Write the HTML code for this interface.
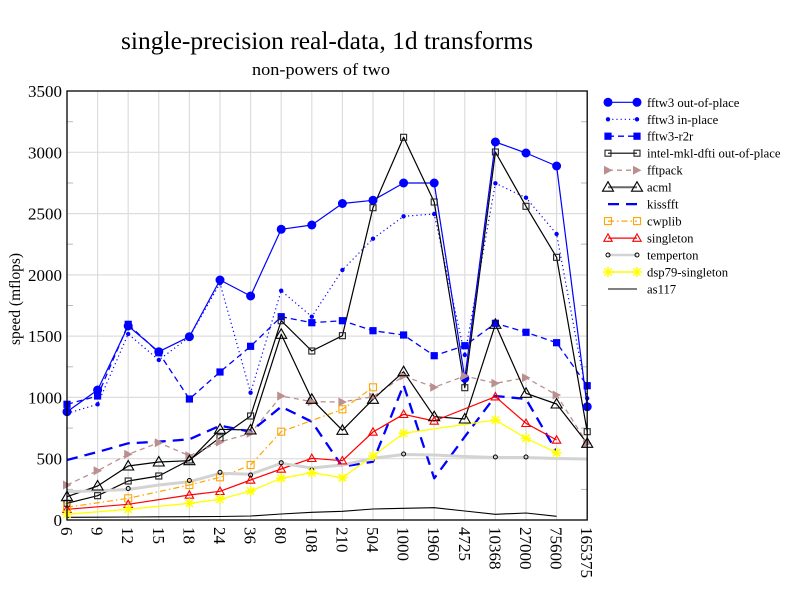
<!DOCTYPE html>
<html><head><meta charset="utf-8"><style>
html,body{margin:0;padding:0;background:#fff;}
svg{display:block;font-family:"Liberation Serif",serif;}
</style></head><body>
<svg width="792" height="612" viewBox="0 0 792 612" xmlns="http://www.w3.org/2000/svg">
<defs>
<circle id="mo" r="4.5" fill="#0000ff"/>
<circle id="mi" r="2.2" fill="#0000ff"/>
<rect id="mr" x="-3.6" y="-3.6" width="7.2" height="7.2" fill="#0000ff"/>
<rect id="mk" x="-3" y="-3" width="6" height="6" fill="none" stroke="#222" stroke-width="1.1"/>
<path id="mp" d="M-4,-4.5 L4.5,0 L-4,4.5 Z" fill="#bc8f8f"/>
<path id="ma" d="M0,-5.5 L5.5,4 L-5.5,4 Z" fill="none" stroke="#000" stroke-width="1.1"/>
<rect id="mc" x="-3.5" y="-3.5" width="7" height="7" fill="none" stroke="#ffa500" stroke-width="1.1"/>
<path id="ms" d="M0,-4.2 L4.2,3.2 L-4.2,3.2 Z" fill="none" stroke="#ff0000" stroke-width="1.1"/>
<circle id="mt" r="2" fill="none" stroke="#000" stroke-width="1"/>
<path id="md" d="M-5,0 L5,0 M0,-5 L0,5 M-3.6,-3.6 L3.6,3.6 M-3.6,3.6 L3.6,-3.6" stroke="#ffff00" stroke-width="1.5"/>
</defs>
<rect width="792" height="612" fill="#fff"/>

<!-- title -->
<text x="327" y="49" font-size="25.5" text-anchor="middle" textLength="412" lengthAdjust="spacingAndGlyphs">single-precision real-data, 1d transforms</text>
<text x="321" y="75" font-size="17" text-anchor="middle" textLength="138" lengthAdjust="spacingAndGlyphs">non-powers of two</text>
<text transform="translate(20,299) rotate(-90)" font-size="15.5" text-anchor="middle" textLength="92" lengthAdjust="spacingAndGlyphs">speed (mflops)</text>

<!-- grid -->
<g stroke="#dddddd" stroke-width="1.2">
<line x1="97.6" y1="91" x2="97.6" y2="520"/><line x1="128.2" y1="91" x2="128.2" y2="520"/><line x1="158.8" y1="91" x2="158.8" y2="520"/><line x1="189.4" y1="91" x2="189.4" y2="520"/><line x1="220" y1="91" x2="220" y2="520"/><line x1="250.6" y1="91" x2="250.6" y2="520"/><line x1="281.2" y1="91" x2="281.2" y2="520"/><line x1="311.8" y1="91" x2="311.8" y2="520"/><line x1="342.4" y1="91" x2="342.4" y2="520"/><line x1="373" y1="91" x2="373" y2="520"/><line x1="403.6" y1="91" x2="403.6" y2="520"/><line x1="434.2" y1="91" x2="434.2" y2="520"/><line x1="464.8" y1="91" x2="464.8" y2="520"/><line x1="495.4" y1="91" x2="495.4" y2="520"/><line x1="526" y1="91" x2="526" y2="520"/><line x1="556.6" y1="91" x2="556.6" y2="520"/>
<line x1="67" y1="458.7" x2="587.2" y2="458.7"/><line x1="67" y1="397.4" x2="587.2" y2="397.4"/><line x1="67" y1="336.1" x2="587.2" y2="336.1"/><line x1="67" y1="274.9" x2="587.2" y2="274.9"/><line x1="67" y1="213.6" x2="587.2" y2="213.6"/><line x1="67" y1="152.3" x2="587.2" y2="152.3"/>
</g>
<g stroke="#bbbbbb" stroke-width="1">
<line x1="67" y1="489.4" x2="73" y2="489.4"/><line x1="67" y1="428.1" x2="73" y2="428.1"/><line x1="67" y1="366.8" x2="73" y2="366.8"/><line x1="67" y1="305.5" x2="73" y2="305.5"/><line x1="67" y1="244.2" x2="73" y2="244.2"/><line x1="67" y1="183" x2="73" y2="183"/><line x1="67" y1="121.7" x2="73" y2="121.7"/>
<line x1="581" y1="489.4" x2="587.2" y2="489.4"/><line x1="581" y1="428.1" x2="587.2" y2="428.1"/><line x1="581" y1="366.8" x2="587.2" y2="366.8"/><line x1="581" y1="305.5" x2="587.2" y2="305.5"/><line x1="581" y1="244.2" x2="587.2" y2="244.2"/><line x1="581" y1="183" x2="587.2" y2="183"/><line x1="581" y1="121.7" x2="587.2" y2="121.7"/>
</g>

<!-- y labels -->
<g font-size="17" text-anchor="end">
<text x="62" y="526">0</text><text x="62" y="464.7">500</text><text x="62" y="403.4">1000</text><text x="62" y="342.1">1500</text><text x="62" y="280.9">2000</text><text x="62" y="219.6">2500</text><text x="62" y="158.3">3000</text><text x="62" y="97">3500</text>
</g>
<!-- x labels -->
<g font-size="17">
<text transform="translate(67,527) rotate(90)" y="6">6</text>
<text transform="translate(97.6,527) rotate(90)" y="6">9</text>
<text transform="translate(128.2,527) rotate(90)" y="6">12</text>
<text transform="translate(158.8,527) rotate(90)" y="6">15</text>
<text transform="translate(189.4,527) rotate(90)" y="6">18</text>
<text transform="translate(220,527) rotate(90)" y="6">24</text>
<text transform="translate(250.6,527) rotate(90)" y="6">36</text>
<text transform="translate(281.2,527) rotate(90)" y="6">80</text>
<text transform="translate(311.8,527) rotate(90)" y="6">108</text>
<text transform="translate(342.4,527) rotate(90)" y="6">210</text>
<text transform="translate(373,527) rotate(90)" y="6">504</text>
<text transform="translate(403.6,527) rotate(90)" y="6">1000</text>
<text transform="translate(434.2,527) rotate(90)" y="6">1960</text>
<text transform="translate(464.8,527) rotate(90)" y="6">4725</text>
<text transform="translate(495.4,527) rotate(90)" y="6">10368</text>
<text transform="translate(526,527) rotate(90)" y="6">27000</text>
<text transform="translate(556.6,527) rotate(90)" y="6">75600</text>
<text transform="translate(587.2,527) rotate(90)" y="6">165375</text>
</g>

<!-- series -->
<g fill="none" stroke-linejoin="round">
<!-- fftw3 out-of-place -->
<polyline stroke="#0000ff" stroke-width="1.2" points="67,411.7 97.6,390 128.2,326 158.8,351.7 189.4,336.7 220,280 250.6,296 281.2,229.3 311.8,225 342.4,203.5 373,200.3 403.6,183 434.2,183 464.8,378.3 495.4,142 526,153 556.6,166 587.2,406.7"/>
<!-- in-place -->
<polyline stroke="#0000ff" stroke-width="1.2" stroke-dasharray="1.2,3" points="67,413.4 97.6,404.3 128.2,334 158.8,360 189.4,337 220,283.3 250.6,392.7 281.2,290.7 311.8,316.7 342.4,270 373,238.7 403.6,216.3 434.2,214 464.8,355 495.4,183.3 526,197.7 556.6,234 587.2,398.3"/>
<!-- r2r -->
<polyline stroke="#0000ff" stroke-width="1.3" stroke-dasharray="6,4" points="67,404.3 97.6,396 128.2,324.3 158.8,352.7 189.4,399 220,372 250.6,346.3 281.2,316.7 311.8,322.7 342.4,320.7 373,330.7 403.6,335 434.2,355.7 464.8,345.7 495.4,323.3 526,332.3 556.6,342.7 587.2,385.7"/>
<!-- intel -->
<polyline stroke="#000" stroke-width="1.2" points="67,503.3 97.6,495.7 128.2,481 158.8,476 189.4,460 220,437.7 250.6,416 281.2,320.7 311.8,351 342.4,335.7 373,207.7 403.6,137.3 434.2,202 464.8,387.7 495.4,152 526,206.3 556.6,257.3 587.2,431.7"/>
<!-- fftpack -->
<polyline stroke="#bc8f8f" stroke-width="1.3" stroke-dasharray="5,4" points="67,485 97.6,470.7 128.2,454.3 158.8,442.7 189.4,455.7 220,442 250.6,433.3 281.2,396 311.8,401.7 342.4,402 373,396.7 403.6,376 434.2,387.3 464.8,376 495.4,383.3 526,377.7 556.6,395 587.2,443.3"/>
<!-- acml -->
<polyline stroke="#000" stroke-width="1.2" points="67,496.7 97.6,486 128.2,466 158.8,462 189.4,460.7 220,429.3 250.6,430 281.2,334.3 311.8,399.3 342.4,430.3 373,399.3 403.6,371.7 434.2,416.7 464.8,419 495.4,324.3 526,393.3 556.6,404 587.2,443.3"/>
<!-- kissfft -->
<polyline stroke="#0000ff" stroke-width="2.3" stroke-dasharray="11,7" points="67,460 97.6,452 128.2,443.3 158.8,441.7 189.4,439.3 220,425.7 250.6,431.7 281.2,406.7 311.8,421.7 342.4,466.7 373,461.7 403.6,385 434.2,478.3 464.8,436.7 495.4,396 526,399 556.6,451.7"/>
<!-- cwplib -->
<polyline stroke="#ffa500" stroke-width="1.2" stroke-dasharray="6,3,1.5,3" points="67,507.3 128.2,498.3 189.4,485 220,477.3 250.6,465 281.2,431.7 342.4,409.3 373,387.3"/>
<!-- singleton -->
<polyline stroke="#ff0000" stroke-width="1.2" points="67,509.3 128.2,504.3 189.4,495 220,491.3 250.6,480 281.2,469 311.8,458.3 342.4,460.7 373,432 403.6,414.3 434.2,421 495.4,396.7 526,423.3 556.6,440"/>
<!-- temperton -->
<polyline stroke="#d3d3d3" stroke-width="3" points="67,491.7 97.6,490.7 128.2,489.5 158.8,485 189.4,481.7 220,473.3 250.6,474.3 281.2,463.3 311.8,468 342.4,465 373,458.3 403.6,454.5 434.2,455 464.8,456.5 495.4,457.5 526,457.5 556.6,458.5 587.2,459"/>
<!-- dsp79 -->
<polyline stroke="#ffff00" stroke-width="1.3" points="67,514.3 128.2,509.3 189.4,503.3 220,499.3 250.6,491 281.2,478.3 311.8,472.7 342.4,477.7 373,456 403.6,433.3 495.4,420 526,438.3 556.6,452.7"/>
<!-- as117 -->
<polyline stroke="#000" stroke-width="1.1" points="67,517.3 97.6,517.2 128.2,517 158.8,516.8 189.4,516.7 220,516.5 250.6,516 281.2,514 311.8,512.3 342.4,511.3 373,509 403.6,508.3 434.2,507.7 464.8,511 495.4,514.3 526,513 556.6,516.3"/>
</g>

<!-- markers -->
<g>
<use href="#mo" x="67" y="411.7"/><use href="#mo" x="97.6" y="390"/><use href="#mo" x="128.2" y="326"/><use href="#mo" x="158.8" y="351.7"/><use href="#mo" x="189.4" y="336.7"/><use href="#mo" x="220" y="280"/><use href="#mo" x="250.6" y="296"/><use href="#mo" x="281.2" y="229.3"/><use href="#mo" x="311.8" y="225"/><use href="#mo" x="342.4" y="203.5"/><use href="#mo" x="373" y="200.3"/><use href="#mo" x="403.6" y="183"/><use href="#mo" x="434.2" y="183"/><use href="#mo" x="464.8" y="378.3"/><use href="#mo" x="495.4" y="142"/><use href="#mo" x="526" y="153"/><use href="#mo" x="556.6" y="166"/><use href="#mo" x="587.2" y="406.7"/>

<use href="#mi" x="67" y="413.4"/><use href="#mi" x="97.6" y="404.3"/><use href="#mi" x="128.2" y="334"/><use href="#mi" x="158.8" y="360"/><use href="#mi" x="189.4" y="337"/><use href="#mi" x="220" y="283.3"/><use href="#mi" x="250.6" y="392.7"/><use href="#mi" x="281.2" y="290.7"/><use href="#mi" x="311.8" y="316.7"/><use href="#mi" x="342.4" y="270"/><use href="#mi" x="373" y="238.7"/><use href="#mi" x="403.6" y="216.3"/><use href="#mi" x="434.2" y="214"/><use href="#mi" x="464.8" y="355"/><use href="#mi" x="495.4" y="183.3"/><use href="#mi" x="526" y="197.7"/><use href="#mi" x="556.6" y="234"/><use href="#mi" x="587.2" y="398.3"/>

<use href="#mr" x="67" y="404.3"/><use href="#mr" x="97.6" y="396"/><use href="#mr" x="128.2" y="324.3"/><use href="#mr" x="158.8" y="352.7"/><use href="#mr" x="189.4" y="399"/><use href="#mr" x="220" y="372"/><use href="#mr" x="250.6" y="346.3"/><use href="#mr" x="281.2" y="316.7"/><use href="#mr" x="311.8" y="322.7"/><use href="#mr" x="342.4" y="320.7"/><use href="#mr" x="373" y="330.7"/><use href="#mr" x="403.6" y="335"/><use href="#mr" x="434.2" y="355.7"/><use href="#mr" x="464.8" y="345.7"/><use href="#mr" x="495.4" y="323.3"/><use href="#mr" x="526" y="332.3"/><use href="#mr" x="556.6" y="342.7"/><use href="#mr" x="587.2" y="385.7"/>

<use href="#mk" x="67" y="503.3"/><use href="#mk" x="97.6" y="495.7"/><use href="#mk" x="128.2" y="481"/><use href="#mk" x="158.8" y="476"/><use href="#mk" x="189.4" y="460"/><use href="#mk" x="220" y="437.7"/><use href="#mk" x="250.6" y="416"/><use href="#mk" x="281.2" y="320.7"/><use href="#mk" x="311.8" y="351"/><use href="#mk" x="342.4" y="335.7"/><use href="#mk" x="373" y="207.7"/><use href="#mk" x="403.6" y="137.3"/><use href="#mk" x="434.2" y="202"/><use href="#mk" x="464.8" y="387.7"/><use href="#mk" x="495.4" y="152"/><use href="#mk" x="526" y="206.3"/><use href="#mk" x="556.6" y="257.3"/><use href="#mk" x="587.2" y="431.7"/>

<use href="#mp" x="67" y="485"/><use href="#mp" x="97.6" y="470.7"/><use href="#mp" x="128.2" y="454.3"/><use href="#mp" x="158.8" y="442.7"/><use href="#mp" x="189.4" y="455.7"/><use href="#mp" x="220" y="442"/><use href="#mp" x="250.6" y="433.3"/><use href="#mp" x="281.2" y="396"/><use href="#mp" x="311.8" y="401.7"/><use href="#mp" x="342.4" y="402"/><use href="#mp" x="373" y="396.7"/><use href="#mp" x="403.6" y="376"/><use href="#mp" x="434.2" y="387.3"/><use href="#mp" x="464.8" y="376"/><use href="#mp" x="495.4" y="383.3"/><use href="#mp" x="526" y="377.7"/><use href="#mp" x="556.6" y="395"/><use href="#mp" x="587.2" y="443.3"/>

<use href="#ma" x="67" y="496.7"/><use href="#ma" x="97.6" y="486"/><use href="#ma" x="128.2" y="466"/><use href="#ma" x="158.8" y="462"/><use href="#ma" x="189.4" y="460.7"/><use href="#ma" x="220" y="429.3"/><use href="#ma" x="250.6" y="430"/><use href="#ma" x="281.2" y="334.3"/><use href="#ma" x="311.8" y="399.3"/><use href="#ma" x="342.4" y="430.3"/><use href="#ma" x="373" y="399.3"/><use href="#ma" x="403.6" y="371.7"/><use href="#ma" x="434.2" y="416.7"/><use href="#ma" x="464.8" y="419"/><use href="#ma" x="495.4" y="324.3"/><use href="#ma" x="526" y="393.3"/><use href="#ma" x="556.6" y="404"/><use href="#ma" x="587.2" y="443.3"/>

<use href="#mc" x="67" y="507.3"/><use href="#mc" x="128.2" y="498.3"/><use href="#mc" x="189.4" y="485"/><use href="#mc" x="220" y="477.3"/><use href="#mc" x="250.6" y="465"/><use href="#mc" x="281.2" y="431.7"/><use href="#mc" x="342.4" y="409.3"/><use href="#mc" x="373" y="387.3"/>

<use href="#ms" x="67" y="509.3"/><use href="#ms" x="128.2" y="504.3"/><use href="#ms" x="189.4" y="495"/><use href="#ms" x="220" y="491.3"/><use href="#ms" x="250.6" y="480"/><use href="#ms" x="281.2" y="469"/><use href="#ms" x="311.8" y="458.3"/><use href="#ms" x="342.4" y="460.7"/><use href="#ms" x="373" y="432"/><use href="#ms" x="403.6" y="414.3"/><use href="#ms" x="434.2" y="421"/><use href="#ms" x="495.4" y="396.7"/><use href="#ms" x="526" y="423.3"/><use href="#ms" x="556.6" y="440"/>

<use href="#mt" x="128.2" y="488.5"/><use href="#mt" x="189.4" y="480.5"/><use href="#mt" x="220" y="472.3"/><use href="#mt" x="250.6" y="475"/><use href="#mt" x="281.2" y="462.7"/><use href="#mt" x="311.8" y="470"/><use href="#mt" x="403.6" y="454"/><use href="#mt" x="495.4" y="457"/><use href="#mt" x="526" y="457"/>

<use href="#md" x="67" y="514.3"/><use href="#md" x="128.2" y="509.3"/><use href="#md" x="189.4" y="503.3"/><use href="#md" x="220" y="499.3"/><use href="#md" x="250.6" y="491"/><use href="#md" x="281.2" y="478.3"/><use href="#md" x="311.8" y="472.7"/><use href="#md" x="342.4" y="477.7"/><use href="#md" x="373" y="456"/><use href="#md" x="403.6" y="433.3"/><use href="#md" x="495.4" y="420"/><use href="#md" x="526" y="438.3"/><use href="#md" x="556.6" y="452.7"/>
</g>

<!-- frame -->
<rect x="67" y="91" width="520.2" height="429" fill="none" stroke="#000" stroke-width="1.3"/>

<!-- legend -->
<g fill="none">
<line x1="608" y1="102.3" x2="637" y2="102.3" stroke="#0000ff" stroke-width="1.2"/>
<line x1="608" y1="119.3" x2="637" y2="119.3" stroke="#0000ff" stroke-width="1.2" stroke-dasharray="1.2,3"/>
<line x1="608" y1="136.2" x2="637" y2="136.2" stroke="#0000ff" stroke-width="1.3" stroke-dasharray="6,4"/>
<line x1="608" y1="153.2" x2="637" y2="153.2" stroke="#000" stroke-width="1.2"/>
<line x1="608" y1="170.2" x2="637" y2="170.2" stroke="#bc8f8f" stroke-width="1.3" stroke-dasharray="5,4"/>
<line x1="608" y1="187.2" x2="637" y2="187.2" stroke="#666" stroke-width="2"/>
<line x1="608" y1="204.1" x2="637" y2="204.1" stroke="#0000ff" stroke-width="2.3" stroke-dasharray="11,7"/>
<line x1="608" y1="221.1" x2="637" y2="221.1" stroke="#ffa500" stroke-width="1.2" stroke-dasharray="6,3,1.5,3"/>
<line x1="608" y1="238.1" x2="637" y2="238.1" stroke="#ff0000" stroke-width="1.2"/>
<line x1="608" y1="255" x2="637" y2="255" stroke="#d3d3d3" stroke-width="2.5"/>
<line x1="608" y1="272" x2="637" y2="272" stroke="#ffff00" stroke-width="1.5"/>
<line x1="608" y1="289" x2="637" y2="289" stroke="#000" stroke-width="1.1"/>
</g>
<g>
<use href="#mo" x="608" y="102.3"/><use href="#mo" x="637" y="102.3"/>
<use href="#mi" x="608" y="119.3"/><use href="#mi" x="637" y="119.3"/>
<use href="#mr" x="608" y="136.2"/><use href="#mr" x="637" y="136.2"/>
<use href="#mk" x="608" y="153.2"/><use href="#mk" x="637" y="153.2"/>
<use href="#mp" x="608" y="170.2"/><use href="#mp" x="637" y="170.2"/>
<use href="#ma" x="608" y="187.2"/><use href="#ma" x="637" y="187.2"/>
<use href="#mc" x="608" y="221.1"/><use href="#mc" x="637" y="221.1"/>
<use href="#ms" x="608" y="238.1"/><use href="#ms" x="637" y="238.1"/>
<use href="#mt" x="608" y="255"/><use href="#mt" x="637" y="255"/>
<use href="#md" x="608" y="272"/><use href="#md" x="637" y="272"/>
</g>
<g font-size="12.7" fill="#000">
<text x="647" y="106.8">fftw3 out-of-place</text>
<text x="647" y="123.8">fftw3 in-place</text>
<text x="647" y="140.7">fftw3-r2r</text>
<text x="647" y="157.7">intel-mkl-dfti out-of-place</text>
<text x="647" y="174.7">fftpack</text>
<text x="647" y="191.7">acml</text>
<text x="647" y="208.6">kissfft</text>
<text x="647" y="225.6">cwplib</text>
<text x="647" y="242.6">singleton</text>
<text x="647" y="259.5">temperton</text>
<text x="647" y="276.5">dsp79-singleton</text>
<text x="647" y="293.5">as117</text>
</g>
</svg>
</body></html>
